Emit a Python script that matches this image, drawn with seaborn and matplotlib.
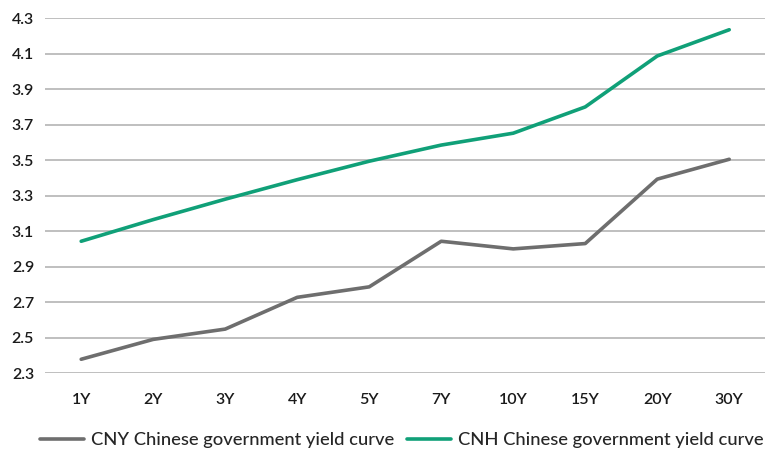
import matplotlib
matplotlib.use("Agg")
import matplotlib.pyplot as plt
import seaborn as sns
import pandas as pd

tenors = ["1Y", "2Y", "3Y", "4Y", "5Y", "7Y", "10Y", "15Y", "20Y", "30Y"]
cny = [2.378, 2.49, 2.548, 2.727, 2.786, 3.043, 3.0, 3.03, 3.393, 3.505]
cnh = [3.043, 3.165, 3.28, 3.39, 3.494, 3.585, 3.652, 3.80, 4.087, 4.235]
series_names = ["CNY Chinese government yield curve", "CNH Chinese government yield curve"]
yticks = [2.3, 2.5, 2.7, 2.9, 3.1, 3.3, 3.5, 3.7, 3.9, 4.1, 4.3]

df = pd.DataFrame({
    "tenor": tenors * 2,
    "yield": cny + cnh,
    "series": [series_names[0]] * len(tenors) + [series_names[1]] * len(tenors),
})

sns.set_theme(style="white")
plt.rcParams["font.family"] = ["Lato", "DejaVu Sans"]

fig = plt.figure(figsize=(7.66, 4.55), dpi=100)
ax = fig.add_axes([0.059, 0.18, 0.94, 0.78])

sns.lineplot(data=df, x="tenor", y="yield", hue="series", sort=False,
             palette=["#6e6e6e", "#10a078"], linewidth=2.6, ax=ax,
             legend=True)

ax.set_ylim(2.3, 4.3)
ax.set_xlim(-0.5, len(tenors) - 0.5)
ax.set_yticks(yticks)
ax.set_yticklabels([f"{v:.1f}" for v in yticks])
ax.yaxis.grid(True, color="#b4b4b4", linewidth=1.2)
ax.set_axisbelow(True)
for s in ax.spines.values():
    s.set_visible(False)
ax.tick_params(axis="both", length=0, labelsize=11.5, colors="#1a1a1a")
ax.tick_params(axis="x", pad=14)
ax.tick_params(axis="y", pad=8)
for lab in ax.get_xticklabels() + ax.get_yticklabels():
    lab.set_fontweight("semibold")
ax.set_xlabel("")
ax.set_ylabel("")

handles, labels = ax.get_legend_handles_labels()
ax.get_legend().remove()
fig.legend(handles, labels, loc="center", bbox_to_anchor=(0.525, 0.033),
           ncol=2, frameon=False, handlelength=2.4,
           handletextpad=0.38, columnspacing=0.7, borderpad=0, borderaxespad=0,
           prop={"family": ["Lato", "DejaVu Sans"], "size": 13.2, "weight": "medium"})

fig.savefig("out.png", dpi=100)
